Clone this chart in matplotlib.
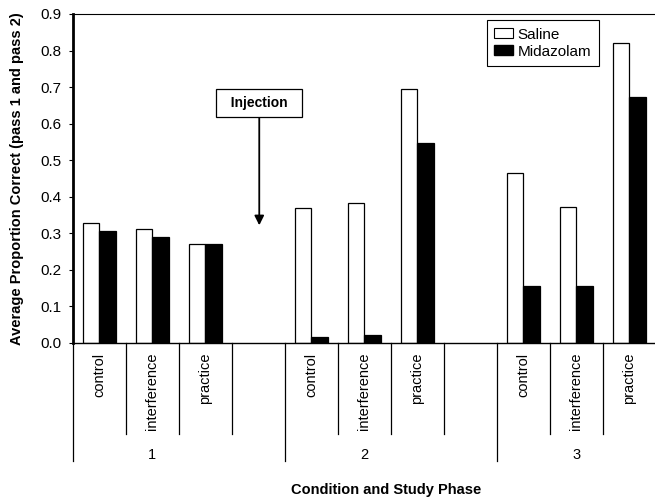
import numpy as np
import matplotlib
matplotlib.use("Agg")
import matplotlib.pyplot as plt
from matplotlib.patches import Patch
import matplotlib.transforms as mtransforms

plt.rcParams['font.family'] = ['Liberation Sans', 'DejaVu Sans']

# data
conditions = ['control', 'interference', 'practice']
phases = ['1', '2', '3']
saline = [0.329, 0.311, 0.271, 0.368, 0.384, 0.696, 0.466, 0.373, 0.820]
midazolam = [0.307, 0.290, 0.272, 0.017, 0.022, 0.548, 0.157, 0.157, 0.673]

W, H = 655, 497
fig = plt.figure(figsize=(W / 100, H / 100), dpi=100)
n_slots = 11  # 3 groups of 3 with an empty slot between groups
ax = fig.add_axes([72.7 / W, 154 / H, 583 / W, 329 / H])

# slot index of each bar: group * 4 + condition
slots = np.array([g * 4 + c for g in range(len(phases)) for c in range(len(conditions))])

ax.bar(slots + 0.2, saline, width=0.30, align='edge', color='white', edgecolor='black', lw=0.9, label='Saline')
ax.bar(slots + 0.5, midazolam, width=0.32, align='edge', color='black', edgecolor='black', lw=0.9, label='Midazolam')

ax.set_xlim(0, n_slots)
ax.set_ylim(0, 0.9)
yt = np.arange(0, 0.91, 0.1)
ax.set_yticks(yt)
ax.set_yticklabels([f"{v:.1f}" for v in yt], fontsize=11)
ax.tick_params(axis='y', length=3, width=0.8, pad=5)

ax.set_xticks(slots + 0.5)
ax.set_xticklabels(conditions * len(phases), rotation=90, fontsize=10.5, va='top')
ax.tick_params(axis='x', length=0, pad=7)

ax.spines['left'].set_linewidth(2)
ax.spines['bottom'].set_linewidth(1)
ax.spines['top'].set_linewidth(0.8)
ax.spines['top'].set_linestyle((0, (5, 1)))
ax.spines['right'].set_visible(False)

# divider lines below the axis
trans = mtransforms.blended_transform_factory(ax.transData, ax.transAxes)
for b in range(n_slots + 1):
    long_line = b % 4 == 0 or b == n_slots
    y_end = -0.359 if long_line else -0.277
    ax.plot([b, b], [0, y_end], color='black', lw=0.9, transform=trans, clip_on=False)

for g, p in enumerate(phases):
    ax.text(g * 4 + 1.5, -0.340, p, transform=trans, ha='center', va='center', fontsize=10.5)

ax.set_ylabel('Average Proportion Correct (pass 1 and pass 2)', fontsize=10.5, fontweight='bold', labelpad=12)
fig.text(386 / W, 1 - 490 / H, 'Condition and Study Phase', ha='center', va='center', fontsize=10.5, fontweight='bold')

handles = [Patch(facecolor='white', edgecolor='black', lw=0.8), Patch(facecolor='black', edgecolor='black')]
leg = ax.legend(handles, ['Saline', 'Midazolam'], loc='upper right', bbox_to_anchor=(0.902, 0.982),
                borderaxespad=0, fancybox=False, edgecolor='black', framealpha=1, fontsize=11,
                handlelength=1.2, handleheight=0.6, handletextpad=0.3, borderpad=0.5, labelspacing=0.2)
leg.get_frame().set_linewidth(0.8)

ax.annotate('  Injection  ', xy=(3.52, 0.322), xytext=(3.52, 0.656), ha='center', va='center',
            fontsize=10, fontweight='bold',
            bbox=dict(boxstyle='square,pad=0.5', fc='white', ec='black', lw=0.9),
            arrowprops=dict(arrowstyle='-|>', color='black', lw=1.3, mutation_scale=14, shrinkA=0, shrinkB=0))

fig.savefig('out.png', dpi=100)
